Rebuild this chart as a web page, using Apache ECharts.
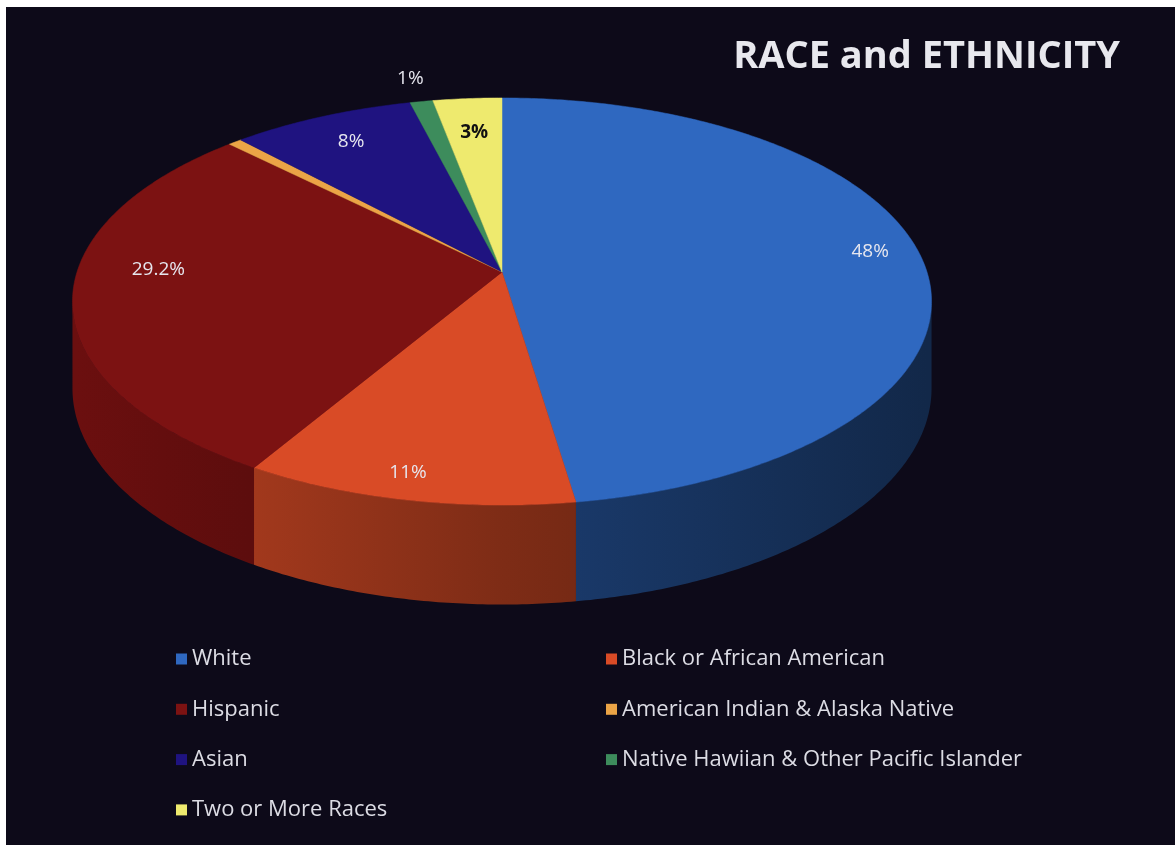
<!DOCTYPE html>
<html>
<head>
<meta charset="utf-8">
<script src="https://cdn.jsdelivr.net/npm/echarts@6/dist/echarts.min.js"></script>
<style>
  html, body { margin: 0; padding: 0; background: #ffffff; }
  #chart { position: absolute; left: 6px; top: 7px; width: 1169px; height: 838px; }
</style>
</head>
<body>
<div id="chart"></div>
<script>
// ---- data ----
const categories = [
  'White',
  'Black or African American',
  'Hispanic',
  'American Indian & Alaska Native',
  'Asian',
  'Native Hawiian & Other Pacific Islander',
  'Two or More Races'
];
const shares = [48, 11, 29.2, 0.6, 8, 1, 3];          // percent
const labelled = [true, true, true, false, true, true, true];
const legendLeft = ['White', 'Hispanic', 'Asian', 'Two or More Races'];
const legendRight = ['Black or African American', 'American Indian & Alaska Native',
                     'Native Hawiian & Other Pacific Islander'];

// ---- styling ----
const palette = ['#2f68c0', '#d94b26', '#7c1212', '#eba446', '#1f1380', '#3d8c5c', '#eeea6e'];
// label placement: radial factor r and an angular nudge (degrees)
const labelStyleByName = {
  'White': { r: 0.885, turn: -2.3 },
  'Black or African American': { r: 0.90, turn: 1.3 },
  'Hispanic': { r: 0.81, turn: 8 },
  'Asian': { r: 0.82, turn: 0 },
  'Native Hawiian & Other Pacific Islander': { r: 1.16, turn: 0 },
  'Two or More Races': { r: 0.78, turn: 0, fill: '#111111', weight: 'bold' }
};

// cumulative angles (clockwise from 12 o'clock)
const total = shares.reduce((s, v) => s + v, 0);
const startAngles = [], endAngles = [];
{
  let acc = 0;
  shares.forEach(v => {
    startAngles.push(acc / total * Math.PI * 2);
    acc += v;
    endAngles.push(acc / total * Math.PI * 2);
  });
}

// perspective view of the disc
const view = { cx: 496, cy: 265, rx: 425, ry: 199.3, persp: 0.145, depth: 85 };

function project(theta, r, drop) {
  const u = r * Math.sin(theta), v = r * Math.cos(theta);
  const w = 1 + view.persp * v;
  return [view.cx + view.rx * u / w, view.cy - view.ry * v / w + drop / w];
}

function shade(hex, f) {
  const n = parseInt(hex.slice(1), 16);
  const r = Math.round(((n >> 16) & 255) * f);
  const g = Math.round(((n >> 8) & 255) * f);
  const b = Math.round((n & 255) * f);
  return 'rgb(' + r + ',' + g + ',' + b + ')';
}

const wallLo = Math.acos(-view.persp);
const wallHi = Math.PI * 2 - wallLo;

function makeRender(i) {
  return function (params, api) {
    const a0 = startAngles[i], a1 = endAngles[i];
    const color = palette[i];
    const children = [];

    // outer wall (only the part facing the viewer)
    const s = Math.max(a0, wallLo), e = Math.min(a1, wallHi);
    if (e > s) {
      const steps = Math.max(2, Math.ceil((e - s) / 0.01));
      const topEdge = [], botEdge = [];
      for (let k = 0; k <= steps; k++) {
        const t = s + (e - s) * k / steps;
        topEdge.push(project(t, 1, 0));
        botEdge.push(project(t, 1, view.depth));
      }
      const poly = topEdge.concat(botEdge.reverse());
      children.push({
        type: 'polygon',
        z2: 1,
        shape: { points: poly },
        style: {
          fill: new echarts.graphic.LinearGradient(
            view.cx - view.rx, 0, view.cx + view.rx, 0,
            [
              { offset: 0, color: shade(color, 0.86) },
              { offset: 0.5, color: shade(color, 0.58) },
              { offset: 1, color: shade(color, 0.38) }
            ], true),
          stroke: null
        }
      });
    }

    // top face
    const steps = Math.max(2, Math.ceil((a1 - a0) / 0.01));
    const pts = [project(0, 0, 0)];
    for (let k = 0; k <= steps; k++) {
      pts.push(project(a0 + (a1 - a0) * k / steps, 1, 0));
    }
    children.push({
      type: 'polygon',
      z2: 10,
      shape: { points: pts },
      style: { fill: color, stroke: color, lineWidth: 0.5 }
    });

    // value label
    if (labelled[i]) {
      const ls = labelStyleByName[categories[i]] || { r: 0.84, turn: 0 };
      const p = project((a0 + a1) / 2 + ls.turn * Math.PI / 180, ls.r, 0);
      children.push({
        type: 'text',
        z2: 20,
        x: p[0], y: p[1],
        style: {
          text: api.value(0) + '%',
          fill: ls.fill || '#e6e6ee',
          fontSize: 19,
          fontWeight: ls.weight || 'normal',
          fontFamily: 'Open Sans',
          align: 'center',
          verticalAlign: 'middle'
        }
      });
    }
    return { type: 'group', children: children };
  };
}

const series = categories.map((name, i) => ({
  type: 'custom',
  name: name,
  coordinateSystem: 'none',
  color: palette[i],
  renderItem: makeRender(i),
  data: [[shares[i]]]
}));

const legendText = { color: '#dcdce4', fontSize: 22, fontFamily: 'Open Sans', lineHeight: 22 };

const chart = echarts.init(document.getElementById('chart'));
chart.setOption({
  backgroundColor: '#0d0a19',
  animation: false,
  title: {
    text: 'RACE and ETHNICITY',
    right: 50,
    top: 24,
    textStyle: { color: '#e8e8ee', fontSize: 38, fontWeight: 'bold', fontFamily: 'Open Sans', lineHeight: 42 }
  },
  legend: [
    {
      orient: 'vertical', left: 165, top: 636,
      itemWidth: 11, itemHeight: 11, itemGap: 28.3, icon: 'rect',
      data: legendLeft, textStyle: legendText, selectedMode: false
    },
    {
      orient: 'vertical', left: 595, top: 636,
      itemWidth: 11, itemHeight: 11, itemGap: 28.3, icon: 'rect',
      data: legendRight, textStyle: legendText, selectedMode: false
    }
  ],
  series: series
});
</script>
</body>
</html>
